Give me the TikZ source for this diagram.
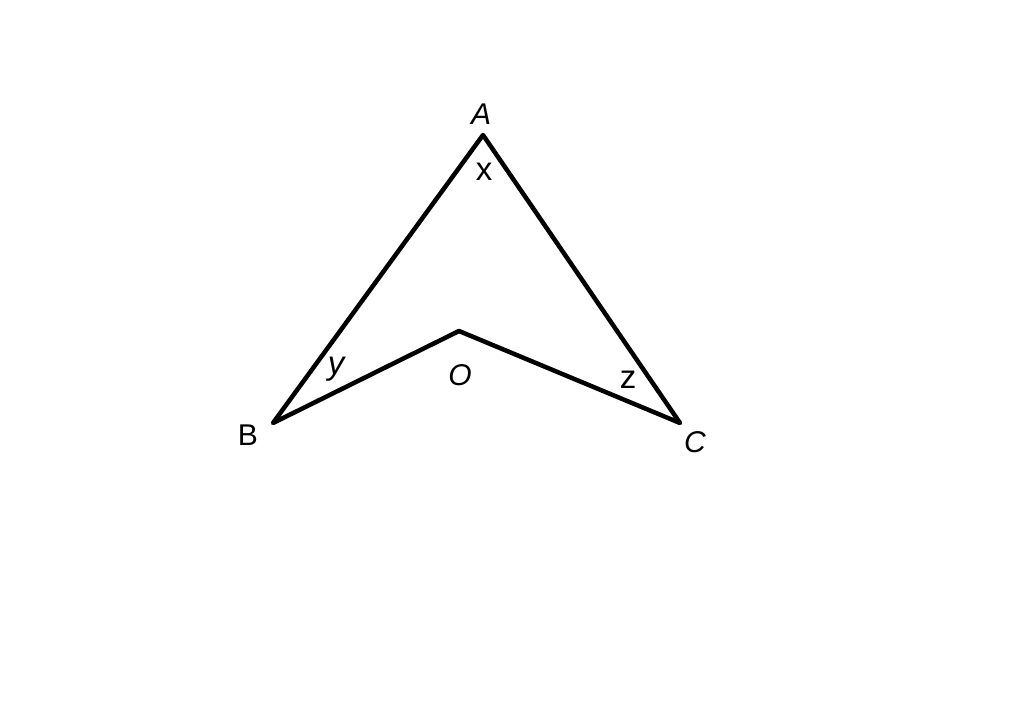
\documentclass[tikz,border=0pt]{standalone}
\usepackage{fontspec}
\setmainfont{Liberation Sans}
\begin{document}
\begin{tikzpicture}[x=1pt,y=-1pt,
  edge/.style={line width=4.5pt,line join=round,line cap=round},
  lbl/.style={inner sep=0pt,font=\fontsize{30}{36}\selectfont},
  sml/.style={inner sep=0pt,font=\fontsize{33}{40}\selectfont}]
\useasboundingbox[fill=white] (0,0) rectangle (1024,726);
\coordinate (A) at (483,135);
\coordinate (B) at (273,423);
\coordinate (C) at (680,423);
\coordinate (O) at (459,331);
\draw[edge] (A) -- (B) -- (O) -- (C) -- cycle;
\node[lbl] (la) at (481,114) {\itshape A};
\node[sml] (lx) at (484,172) {x};
\node[sml] (ly) at (336,369) {\itshape y};
\node[lbl] (lo) at (460,375) {\itshape O};
\node[sml] (lz) at (628,380) {z};
\node[lbl] (lb) at (248,435) {B};
\node[lbl] (lc) at (695,442) {\itshape C};
\end{tikzpicture}
\end{document}
